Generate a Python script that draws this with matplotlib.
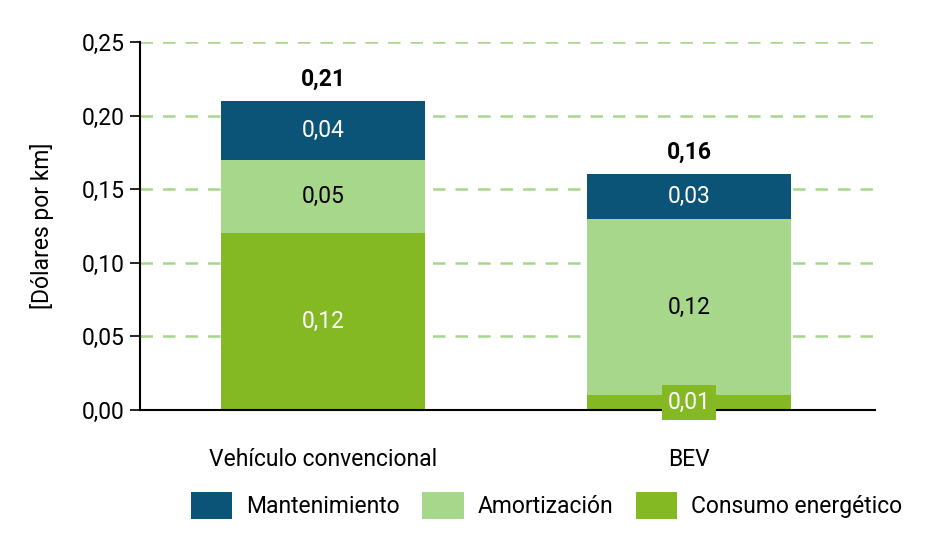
import matplotlib
matplotlib.use("Agg")
import matplotlib.pyplot as plt
import numpy as np

plt.rcParams['font.family'] = ['Roboto', 'DejaVu Sans']

categories = ["Vehículo convencional", "BEV"]
consumo = [0.12, 0.01]
amortizacion = [0.05, 0.12]
mantenimiento = [0.04, 0.03]
totals = [0.21, 0.16]
series_names = ["Mantenimiento", "Amortización", "Consumo energético"]

c_mant = "#0b5478"
c_amort = "#a6d78a"
c_cons = "#84b923"


def fmt(v):
    return f"{v:.2f}".replace(".", ",")


fig = plt.figure(figsize=(9.42, 5.34), dpi=100)
ax = fig.add_axes([0.1486, 0.2322, 0.7805, 0.6891])

x = np.arange(len(categories))
w = 0.557
cons = np.array(consumo)
amort = np.array(amortizacion)
mant = np.array(mantenimiento)

b1 = ax.bar(x, cons, w, color=c_cons, zorder=3)
b2 = ax.bar(x, amort, w, bottom=cons, color=c_amort, zorder=3)
b3 = ax.bar(x, mant, w, bottom=cons + amort, color=c_mant, zorder=3)

fs = 16.5
for i in range(len(x)):
    # consumo energetico
    if cons[i] < 0.03:
        ax.text(x[i], 0.005, fmt(cons[i]), ha="center", va="center", color="white",
                fontsize=fs, zorder=5, clip_on=False,
                bbox=dict(boxstyle="square,pad=0.25", fc=c_cons, ec="none"))
    else:
        ax.text(x[i], cons[i] / 2, fmt(cons[i]), ha="center", va="center",
                color="white", fontsize=fs, zorder=5)
    ax.text(x[i], cons[i] + amort[i] / 2, fmt(amort[i]), ha="center", va="center",
            color="black", fontsize=fs, zorder=5)
    ax.text(x[i], cons[i] + amort[i] + mant[i] / 2, fmt(mant[i]), ha="center",
            va="center", color="white", fontsize=fs, zorder=5)
    ax.text(x[i], totals[i] + 0.007, fmt(totals[i]), ha="center", va="bottom",
            color="black", fontsize=fs, fontweight="bold", zorder=5)

ax.set_xlim(-0.5, 1.508)
ax.set_ylim(0, 0.25)
yt = np.arange(0, 0.2501, 0.05)
ax.set_yticks(yt)
ax.set_yticklabels([fmt(v) for v in yt], fontsize=fs)
ax.set_xticks(x)
ax.set_xticklabels(categories, fontsize=fs)
ax.tick_params(axis="x", length=0, pad=27)
ax.tick_params(axis="y", length=7, width=1.2, direction="out", pad=4)

ax.yaxis.grid(True, color=c_amort, linestyle=(0, (5, 4)), linewidth=1.8, zorder=0)
for s in ["top", "right"]:
    ax.spines[s].set_visible(False)
ax.spines["left"].set_linewidth(1.5)
ax.spines["bottom"].set_linewidth(1.5)
ax.spines["bottom"].set_zorder(4)

ax.set_ylabel("[Dólares por km]", fontsize=fs, labelpad=20)

fig.legend([b3, b2, b1], series_names, loc="center", bbox_to_anchor=(0.58, 0.053),
           ncol=3, frameon=False, fontsize=fs, handlelength=1.8, handleheight=1.4,
           columnspacing=1.0, handletextpad=0.6)

fig.savefig("out.png", dpi=100)
